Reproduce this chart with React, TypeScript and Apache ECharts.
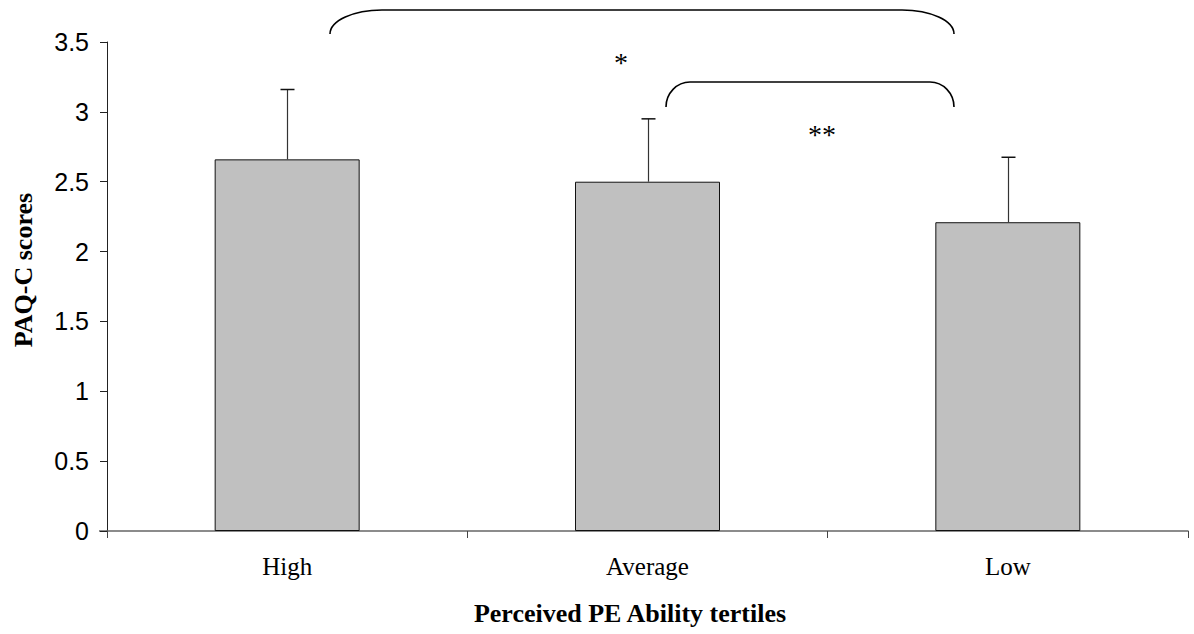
import React, { useEffect, useRef } from "react";
import * as echarts from "echarts";

const categories = ["High", "Average", "Low"];
const means = [2.66, 2.5, 2.21];
const upperErrors = [3.16, 2.95, 2.675];
const yTicks = { min: 0, max: 3.5, interval: 0.5 };
const stars = ["*", "**"];
const xTitle = "Perceived PE Ability tertiles";
const yTitle = "PAQ-C scores";

export default function App() {
  const ref = useRef<HTMLDivElement>(null);
  useEffect(() => {
    if (!ref.current) return;
    const chart = echarts.init(ref.current, null, { renderer: "svg" });
    const lineStyle = { stroke: "#000", lineWidth: 1.6, fill: "none" };
    const bracket = (x1: number, x2: number, yTop: number, yBot: number, r: number) => [
      {
        type: "bezierCurve",
        shape: { x1, y1: yBot, cpx1: x1, cpy1: yBot - (yBot - yTop) * 0.55, cpx2: x1 + r * 0.45, cpy2: yTop, x2: x1 + r, y2: yTop },
        style: lineStyle,
      },
      { type: "line", shape: { x1: x1 + r, y1: yTop, x2: x2 - r, y2: yTop }, style: lineStyle },
      {
        type: "bezierCurve",
        shape: { x1: x2 - r, y1: yTop, cpx1: x2 - r * 0.45, cpy1: yTop, cpx2: x2, cpy2: yBot - (yBot - yTop) * 0.55, x2, y2: yBot },
        style: lineStyle,
      },
    ];
    chart.setOption({
      animation: false,
      grid: { left: 107, right: 6, top: 42, bottom: 103 },
      xAxis: {
        type: "category",
        data: categories,
        boundaryGap: true,
        axisLine: { lineStyle: { color: "#666", width: 1.5 } },
        axisTick: { show: true, length: 7, lineStyle: { color: "#444" } },
        axisLabel: { fontFamily: "Liberation Serif", fontSize: 25, color: "#000", margin: 23 },
      },
      yAxis: {
        type: "value",
        min: yTicks.min,
        max: yTicks.max,
        interval: yTicks.interval,
        splitLine: { show: false },
        axisLine: { show: true, lineStyle: { color: "#222", width: 1 } },
        axisTick: { show: true, length: 7, lineStyle: { color: "#222" } },
        axisLabel: { fontFamily: "Liberation Sans", fontSize: 25, color: "#000", margin: 18 },
      },
      graphic: [
        { type: "line", shape: { x1: 99, y1: 531, x2: 107, y2: 531 }, style: { stroke: "#666", lineWidth: 1.5 } },
        {
          type: "text",
          x: 23,
          y: 270,
          rotation: Math.PI / 2,
          style: {
            text: yTitle,
            fontFamily: "Liberation Serif",
            fontWeight: "bold",
            fontSize: 26,
            fill: "#000",
            align: "center",
            verticalAlign: "middle",
          },
        },
        {
          type: "text",
          x: 630,
          y: 613,
          style: {
            text: xTitle,
            fontFamily: "Liberation Serif",
            fontWeight: "bold",
            fontSize: 26,
            fill: "#000",
            align: "center",
            verticalAlign: "middle",
          },
        },
        ...bracket(330, 954, 10, 34, 52),
        ...bracket(666, 954, 82, 107, 24),
        {
          type: "text",
          x: 621,
          y: 62,
          style: { text: stars[0], fontFamily: "Liberation Serif", fontSize: 28, fill: "#000", align: "center", verticalAlign: "middle" },
        },
        {
          type: "text",
          x: 822,
          y: 134,
          style: { text: stars[1], fontFamily: "Liberation Serif", fontSize: 28, fill: "#000", align: "center", verticalAlign: "middle" },
        },
      ],
      series: [
        {
          type: "bar",
          data: means,
          barWidth: 145,
          itemStyle: { color: "#c0c0c0", borderColor: "#111", borderWidth: 1 },
        },
        {
          type: "custom",
          data: categories.map((_, i) => [i, means[i], upperErrors[i]]),
          renderItem: (params: any, api: any) => {
            const lo = api.coord([api.value(0), api.value(1)]);
            const hi = api.coord([api.value(0), api.value(2)]);
            const x = Math.round(lo[0]) + 0.5;
            return {
              type: "group",
              children: [
                { type: "line", shape: { x1: x, y1: lo[1], x2: x, y2: hi[1] }, style: { stroke: "#333", lineWidth: 1.2 } },
                { type: "line", shape: { x1: x - 7, y1: hi[1], x2: x + 7, y2: hi[1] }, style: { stroke: "#111", lineWidth: 1.5 } },
              ],
            };
          },
          z: 3,
        },
      ],
    });
    return () => chart.dispose();
  }, []);
  return <div ref={ref} style={{ width: 1194, height: 634, position: "absolute", left: 0, top: 0 }} />;
}
